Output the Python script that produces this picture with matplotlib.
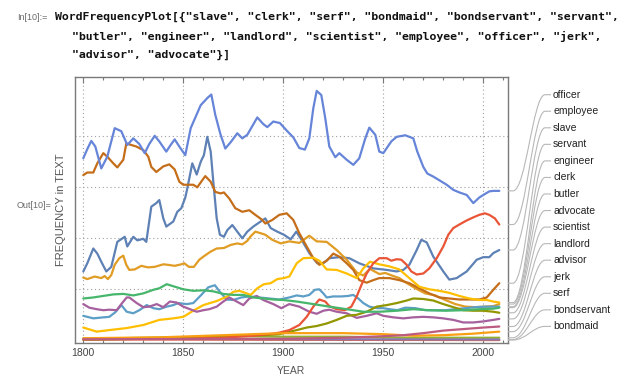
import numpy as np
import matplotlib
matplotlib.use("Agg")
from matplotlib import pyplot as plt
from matplotlib.path import Path
from matplotlib.patches import PathPatch

plt.rcParams["font.family"] = ["Liberation Sans", "DejaVu Sans"]

W, H = 634, 385

# word frequency (arbitrary units) as (year, value)
slave = [(1800, 1.35), (1802, 1.51), (1805, 1.80), (1807, 1.70), (1809, 1.54), (1811.5, 1.35),
         (1814, 1.44), (1817, 1.93), (1820.7, 2.03), (1822, 1.84), (1825, 2.03), (1827, 1.96),
         (1830, 1.99), (1831.5, 1.93), (1834, 2.62), (1836.5, 2.69), (1838, 2.75), (1840, 2.39),
         (1841.5, 2.23), (1845, 2.33), (1847, 2.52), (1849, 2.59), (1851, 2.8), (1852, 2.98),
         (1854.5, 3.47), (1856.7, 3.25), (1858.7, 3.50), (1860.3, 3.63), (1862, 3.99),
         (1863.7, 3.7), (1865, 3.11), (1866.7, 2.39), (1868.3, 2.07), (1870.3, 2.03),
         (1872, 2.16), (1874.5, 2.26), (1877, 2.13), (1879.5, 2.0), (1882, 2.13), (1885, 2.23),
         (1888.7, 2.33), (1891, 2.39), (1893.7, 2.2), (1897, 2.13), (1900.3, 2.07),
         (1903.7, 1.98), (1906.5, 2.13), (1909, 1.98), (1913, 1.71), (1917, 1.51), (1920, 1.51),
         (1923, 1.61), (1928, 1.63), (1933, 1.61), (1938, 1.51), (1945, 1.41), (1951.7, 1.38),
         (1956.7, 1.35), (1960, 1.38), (1963, 1.48), (1966.7, 1.77), (1969, 1.97), (1971.7, 1.92),
         (1975, 1.64), (1980, 1.35), (1983, 1.19), (1986.7, 1.22), (1991.7, 1.35),
         (1996.7, 1.58), (2000, 1.63), (2003, 1.63), (2005, 1.71), (2008, 1.77)]
clerk = [(1800, 1.23), (1802, 1.20), (1805.7, 1.25), (1809, 1.22), (1810.7, 1.26), (1812.3, 1.20),
         (1814, 1.28), (1815.7, 1.48), (1818, 1.61), (1820, 1.66), (1821.5, 1.48), (1823, 1.38),
         (1825.7, 1.39), (1829, 1.46), (1832.3, 1.43), (1835.7, 1.44), (1840, 1.49),
         (1842.3, 1.48), (1845.7, 1.46), (1849, 1.49), (1850.5, 1.51), (1852.8, 1.44),
         (1855.3, 1.44), (1858, 1.58), (1860, 1.64), (1863.7, 1.74), (1866.7, 1.80),
         (1870.3, 1.81), (1873.7, 1.87), (1877, 1.90), (1879.5, 1.88), (1882, 1.95),
         (1883.7, 2.04), (1886, 2.13), (1888.7, 2.10), (1891, 2.07), (1894.5, 1.97),
         (1898.7, 1.90), (1903, 1.94), (1908, 1.91), (1913, 2.05), (1916.7, 1.94),
         (1921.7, 1.93), (1926.7, 1.77), (1931.7, 1.58), (1936.7, 1.33), (1940, 1.27),
         (1943.3, 1.40), (1948, 1.30), (1951, 1.32), (1955, 1.26), (1958, 1.22), (1961, 1.14),
         (1966, 1.02), (1971, 0.92), (1976, 0.88), (1981, 0.79), (1986, 0.71), (1991, 0.66),
         (1996, 0.65), (2001, 0.66), (2005, 0.67), (2008, 0.71)]
serf = [(1800, 0.03), (1850, 0.06), (1880, 0.08), (1900, 0.07), (1930, 0.07), (1960, 0.05),
        (2008, 0.05)]
bondmaid = [(1800, 0.02), (1900, 0.01), (2008, 0.005)]
bondservant = [(1800, 0.03), (1900, 0.02), (2008, 0.015)]
servant = [(1800, 3.24), (1802, 3.29), (1805, 3.29), (1807, 3.47), (1810, 3.67), (1812, 3.6),
           (1815, 3.47), (1817, 3.39), (1820, 3.54), (1821.5, 3.86), (1824, 3.83),
           (1826.5, 3.80), (1830, 3.73), (1832.5, 3.6), (1834, 3.4), (1836.5, 3.30),
           (1840, 3.41), (1843, 3.45), (1845.7, 3.35), (1848, 3.11), (1850, 3.05), (1855, 3.05),
           (1857, 3.0), (1859.5, 3.14), (1861, 3.22), (1863.7, 3.11), (1866, 2.91),
           (1868.7, 2.88), (1870.3, 2.9), (1873, 2.78), (1876, 2.59), (1879.5, 2.52),
           (1883, 2.55), (1886, 2.46), (1889.5, 2.36), (1891, 2.29), (1894.5, 2.36),
           (1898, 2.46), (1901.7, 2.49), (1905, 2.36), (1908, 2.10), (1911.7, 1.84),
           (1915, 1.61), (1918, 1.48), (1921.7, 1.56), (1925, 1.70), (1928, 1.64),
           (1931.7, 1.51), (1935, 1.38), (1938, 1.18), (1941.7, 1.13), (1945, 1.18),
           (1948, 1.22), (1953, 1.22), (1958, 1.18), (1963, 1.12), (1968, 1.02), (1973, 0.92),
           (1978, 0.84), (1983, 0.82), (1988, 0.80), (1993, 0.80), (1998, 0.80),
           (2001.7, 0.84), (2005, 0.99), (2008, 1.12)]
butler = [(1800, 0.48), (1805, 0.43), (1810, 0.45), (1813, 0.46), (1816, 0.55), (1819, 0.69),
          (1821.7, 0.56), (1825, 0.53), (1828, 0.59), (1831.7, 0.69), (1835, 0.63),
          (1838, 0.61), (1841.7, 0.66), (1845, 0.69), (1847.5, 0.73), (1851.7, 0.71),
          (1855, 0.73), (1859, 0.89), (1862.5, 1.04), (1865.8, 1.08), (1868.3, 0.95),
          (1871.7, 0.80), (1875, 0.79), (1879, 0.84), (1883, 0.86), (1888, 0.84), (1893, 0.82),
          (1898, 0.80), (1903, 0.84), (1906.7, 0.88), (1910, 0.86), (1913, 0.89),
          (1915.8, 0.99), (1918, 1.0), (1920, 0.92), (1921.7, 0.84), (1925, 0.86),
          (1929, 0.86), (1932.5, 0.87), (1935, 0.89), (1937.5, 0.82), (1940, 0.73),
          (1943, 0.66), (1947, 0.63), (1950, 0.63), (1953, 0.61), (1957, 0.59), (1961, 0.64),
          (1966, 0.63), (1971, 0.59), (1976, 0.59), (1981, 0.59), (1986, 0.61), (1991, 0.63),
          (1996, 0.65), (2001, 0.66), (2005, 0.66), (2008, 0.66)]
engineer = [(1800, 0.25), (1806.7, 0.17), (1813, 0.20), (1821.7, 0.24), (1830, 0.30),
            (1838, 0.40), (1845, 0.43), (1850, 0.46), (1855, 0.58), (1860, 0.69),
            (1866.7, 0.77), (1872, 0.86), (1875, 0.95), (1878, 0.97), (1880.3, 0.94),
            (1883.7, 0.89), (1887, 1.02), (1890.3, 1.10), (1893.7, 1.12), (1897, 1.2),
            (1900.3, 1.22), (1903, 1.25), (1906.7, 1.51), (1910, 1.61), (1915, 1.62),
            (1918, 1.56), (1921.7, 1.39), (1926.7, 1.38), (1931.7, 1.31), (1936.7, 1.22),
            (1940, 1.41), (1943.3, 1.54), (1948, 1.49), (1953, 1.45), (1958, 1.39),
            (1963, 1.22), (1968, 1.05), (1973, 1.0), (1978, 0.97), (1983, 0.93), (1988, 0.87),
            (1993, 0.82), (1998, 0.79), (2001.7, 0.79), (2005, 0.76), (2008, 0.74)]
landlord = [(1800, 0.71), (1803, 0.64), (1806.7, 0.61), (1810, 0.59), (1813, 0.60),
            (1816.7, 0.59), (1819, 0.71), (1821.7, 0.84), (1823, 0.84), (1826.7, 0.73),
            (1830, 0.65), (1833, 0.66), (1836.7, 0.71), (1840, 0.65), (1843.3, 0.76),
            (1846.7, 0.74), (1850, 0.66), (1853.3, 0.61), (1856.7, 0.56), (1860, 0.59),
            (1863, 0.61), (1866.7, 0.66), (1870, 0.76), (1873, 0.84), (1876.7, 0.76),
            (1880, 0.69), (1883, 0.82), (1886.7, 0.87), (1890, 0.79), (1895, 0.71),
            (1899, 0.63), (1903, 0.71), (1908, 0.66), (1913, 0.56), (1916.7, 0.52),
            (1920, 0.58), (1923, 0.60), (1926.7, 0.56), (1931.7, 0.53), (1936.7, 0.44),
            (1941.7, 0.48), (1946.7, 0.53), (1950, 0.48), (1955, 0.45), (1960, 0.43),
            (1965, 0.45), (1970, 0.46), (1975, 0.45), (1980, 0.43), (1985, 0.40), (1990, 0.35),
            (1995, 0.35), (2000, 0.37), (2005, 0.40), (2008, 0.42)]
scientist = [(1800, 0.01), (1830, 0.03), (1850, 0.06), (1870, 0.08), (1890, 0.10), (1898, 0.12),
             (1906.7, 0.20), (1911.7, 0.25), (1916.7, 0.28), (1921.7, 0.33), (1926.7, 0.40),
             (1931.7, 0.48), (1936.7, 0.50), (1941.7, 0.56), (1946.7, 0.66), (1951.7, 0.69),
             (1956.7, 0.73), (1961.7, 0.78), (1965, 0.82), (1970, 0.81), (1975, 0.78),
             (1980, 0.71), (1985, 0.65), (1990, 0.59), (1995, 0.58), (2000, 0.58), (2005, 0.56),
             (2008, 0.54)]
employee = [(1800, 0.02), (1850, 0.03), (1870, 0.05), (1885, 0.09), (1895, 0.13), (1898, 0.15),
            (1903, 0.20), (1908, 0.30), (1911.7, 0.46), (1915, 0.66), (1918, 0.80),
            (1921, 0.76), (1923, 0.67), (1926.7, 0.61), (1930.8, 0.59), (1934, 0.66),
            (1936.7, 0.86), (1939, 1.08), (1941.7, 1.31), (1945, 1.51), (1948, 1.61),
            (1951.7, 1.61), (1954, 1.56), (1956.7, 1.59), (1959, 1.58), (1961.7, 1.48),
            (1964, 1.35), (1966.7, 1.29), (1970, 1.31), (1973, 1.41), (1976.7, 1.61),
            (1980, 1.84), (1982.5, 2.07), (1985, 2.20), (1988, 2.27), (1991.7, 2.35),
            (1995, 2.41), (1998, 2.46), (2000.8, 2.49), (2003, 2.46), (2005.8, 2.39),
            (2008, 2.27)]
officer = [(1800, 3.57), (1802, 3.75), (1804, 3.91), (1806, 3.8), (1809, 3.37), (1812, 3.6),
           (1815.7, 4.16), (1819, 4.1), (1822, 3.83), (1825, 3.96), (1828, 3.85),
           (1830.7, 3.67), (1833, 3.85), (1835.7, 4.01), (1838, 3.9), (1841.5, 3.70),
           (1843.5, 3.82), (1845.7, 3.94), (1848, 3.8), (1851, 3.63), (1853.7, 4.16),
           (1858.7, 4.61), (1862, 4.75), (1864, 4.82), (1866, 4.42), (1868.5, 4.05),
           (1871, 3.76), (1874, 3.9), (1877, 4.06), (1879.5, 3.96), (1882, 4.03),
           (1884.5, 4.2), (1887, 4.37), (1890, 4.24), (1892, 4.18), (1895, 4.29),
           (1898.3, 4.26), (1902, 4.1), (1905, 3.98), (1908, 3.77), (1910.8, 3.74),
           (1913, 3.96), (1915, 4.55), (1916.7, 4.89), (1919, 4.81), (1921, 4.35),
           (1923, 3.80), (1926, 3.59), (1928, 3.67), (1931.7, 3.54), (1935, 3.44),
           (1938, 3.57), (1941, 3.96), (1943, 4.17), (1946, 4.03), (1948, 3.70), (1950, 3.67),
           (1954, 3.90), (1956.7, 3.99), (1961, 4.02), (1965, 3.96), (1967, 3.7), (1970, 3.40),
           (1972, 3.27), (1975, 3.21), (1981.7, 3.05), (1985, 2.95), (1988, 2.90),
           (1991.7, 2.85), (1995, 2.69), (1998, 2.80), (2000, 2.85), (2003, 2.92),
           (2005, 2.93), (2008, 2.93)]
jerk = [(1800, 0.04), (1840, 0.06), (1870, 0.10), (1900, 0.14), (1930, 0.14), (1950, 0.12),
        (1965, 0.09), (1980, 0.10), (1995, 0.13), (2008, 0.17)]
advisor = [(1800, 0.02), (1900, 0.03), (1930, 0.05), (1950, 0.08), (1960, 0.10), (1970, 0.14),
           (1980, 0.19), (1990, 0.22), (2000, 0.25), (2008, 0.27)]
advocate = [(1800, 0.82), (1805, 0.84), (1810, 0.87), (1815, 0.90), (1820, 0.91), (1825, 0.88),
            (1830, 0.92), (1835, 0.99), (1838, 1.02), (1841.7, 1.10), (1845, 1.06),
            (1850, 1.0), (1855, 0.97), (1860, 0.98), (1865, 0.96), (1870, 0.91), (1875, 0.89),
            (1880, 0.89), (1885, 0.84), (1890, 0.82), (1895, 0.80), (1900, 0.79),
            (1906.7, 0.76), (1915, 0.71), (1923, 0.66), (1931.7, 0.61), (1940, 0.56),
            (1948, 0.56), (1956.7, 0.58), (1965, 0.61), (1973, 0.59), (1981.7, 0.58),
            (1990, 0.59), (1998, 0.61), (2005, 0.62), (2008, 0.64)]

words = ["slave", "clerk", "serf", "bondmaid", "bondservant", "servant", "butler", "engineer",
         "landlord", "scientist", "employee", "officer", "jerk", "advisor", "advocate"]
curves = [slave, clerk, serf, bondmaid, bondservant, servant, butler, engineer,
          landlord, scientist, employee, officer, jerk, advisor, advocate]
colors = ["#5E81B5", "#E19C24", "#8FB032", "#EB6235", "#8778B3", "#C56E1A", "#5D9EC7",
          "#FFBF00", "#A5609D", "#929600", "#E95536", "#6685D9", "#F89F13", "#BC5B80",
          "#47B66D"]


def px(x, y):
    # pixel position (top-left origin) -> figure fraction
    return x / W, 1 - y / H


fig = plt.figure(figsize=(W / 100, H / 100), dpi=100)
ax = fig.add_axes([74.7 / W, 1 - 343 / H, (508 - 74.7) / W, (343 - 77) / H])

for pts, c in zip(curves, colors):
    yr, v = zip(*pts)
    ax.plot(yr, v, color=c, lw=1.6, solid_joinstyle="round", solid_capstyle="round")

ax.set_xlim(1795.7, 2012.35)
ax.set_ylim(-0.053, 5.163)

ax.set_xticks(range(1800, 2001, 50))
ax.set_xticks(range(1800, 2011, 10), minor=True)
ax.set_yticks([1, 2, 3, 4])
ax.tick_params(axis="x", which="both", direction="in", top=True, bottom=True,
               color="#777777", labelcolor="#444444", labelsize=7.5, pad=3.5)
ax.tick_params(axis="x", which="major", length=4, width=0.8)
ax.tick_params(axis="x", which="minor", length=2.5, width=0.8)
ax.tick_params(axis="y", length=0, labelleft=False)
ax.grid(True, which="major", linestyle=(0, (1, 2.5)), color="#a0a0a0", lw=0.8)
ax.set_axisbelow(True)
for s in ax.spines.values():
    s.set_color("#7a7a7a")
    s.set_linewidth(1.0)

ax.set_xlabel("YEAR", fontsize=7.5, color="#555555", labelpad=6)
ax.set_ylabel("FREQUENCY in TEXT", fontsize=8, color="#555555", labelpad=6.5)

# callout labels on the right, ordered by the last value
fig.canvas.draw()
order = sorted(range(len(words)), key=lambda i: -curves[i][-1][1])
for k, i in enumerate(order):
    ly = 94.7 + k * 16.55
    yd = ax.transData.transform((curves[i][-1][0], curves[i][-1][1]))[1]
    y0 = H - yd
    verts = [px(508, y0), px(513, y0), px(526, y0), px(533, ly), px(545, ly), px(551, ly)]
    codes = [Path.MOVETO, Path.LINETO, Path.CURVE4, Path.CURVE4, Path.CURVE4, Path.LINETO]
    fig.add_artist(PathPatch(Path(verts, codes), transform=fig.transFigure,
                             fill=False, edgecolor="#b8b8b8", lw=0.8))
    fig.text(*px(553, ly), words[i], fontsize=7.5, color="#222222", va="center", ha="left")

# notebook cell text
fig.text(*px(17, 17), "In[10]:=", fontsize=6.5, color="#6b6b6b", va="center")
fig.text(*px(17, 206), "Out[10]=", fontsize=6.5, color="#6b6b6b", va="center")
code = ['WordFrequencyPlot[{"slave", "clerk", "serf", "bondmaid", "bondservant", "servant",',
        '"butler", "engineer", "landlord", "scientist", "employee", "officer", "jerk",',
        '"advisor", "advocate"}]']
for line, (cx, cy) in zip(code, [(55, 17), (72, 36), (72, 55)]):
    fig.text(*px(cx, cy), line, fontsize=8.25, family="DejaVu Sans Mono", weight="bold",
             color="#111111", va="center")

plt.savefig("out.png", dpi=100)
